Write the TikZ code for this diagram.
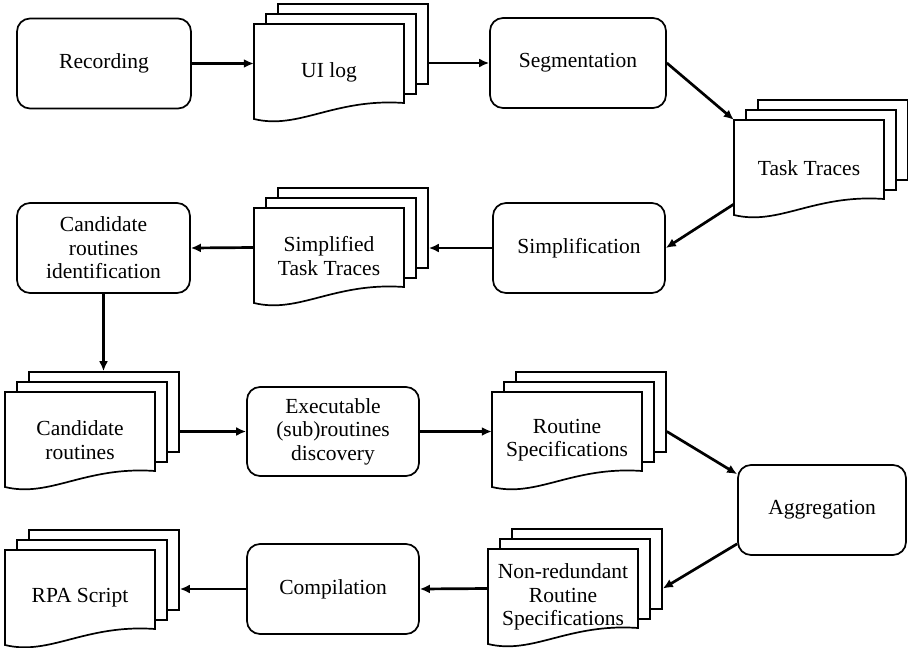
\documentclass[tikz,border=0pt]{standalone}
\usepackage{fontspec}
\setmainfont{Liberation Serif}
\usetikzlibrary{arrows.meta,calc}
\tikzset{
  box/.style={draw, line width=1.7pt, rounded corners=13pt, minimum width=173pt, minimum height=90pt, inner sep=0pt, align=center, font=\fontsize{21.5}{23.5}\selectfont},
  page/.style={draw, fill=white, line width=1.7pt, minimum width=150pt, minimum height=80pt, inner sep=0pt},
  doc/.style={draw, fill=white, line width=1.7pt},
  rectzero/.style={minimum width=150pt, minimum height=79pt, inner sep=0pt},
  lbl/.style={inner sep=0pt, align=center, font=\fontsize{21.5}{23.5}\selectfont},
  arr/.style={line width=2.7pt, -{Latex[length=10pt,width=9pt]}}
}
\newcommand\docstack[4]{%
  \node[page] (#1b) at ({#2+99},{#3+20}) {};
  \node[page] (#1m) at ({#2+87},{#3+30}) {};
  \draw[doc] (#2,#3) -- ({#2+150},#3) -- ({#2+150},{#3+79})
     .. controls ({#2+80},{#3+74}) and ({#2+45},{#3+106}) .. (#2,{#3+95}) -- cycle;
  \node[rectzero] (#1) at ({#2+75},{#3+39.5}) {};
  \node[lbl] (#1t) at ({#2+75},{#3+48}) {#4};
}
\begin{document}
\begin{tikzpicture}[x=1pt,y=-1pt]
\useasboundingbox (0,0) rectangle (908,648);
% process boxes
\node[box, minimum width=174pt] (rec) at (104,63.5) {Recording};
\node[box, minimum width=176pt] (seg) at (578,63) {Segmentation};
\node[box, minimum width=172pt] (simp) at (579,248) {Simplification};
\node[box] (cri) at (103.5,248) {Candidate\\routines\\identification};
\node[box, minimum width=172pt, minimum height=89pt] (exe) at (333,431.5) {Executable\\(sub)routines\\discovery};
\node[box, minimum width=168pt] (agg) at (822,510) {Aggregation};
\node[box, minimum width=172pt] (comp) at (333,589) {Compilation};
% document stacks
\docstack{uilog}{254}{24}{UI log}
\docstack{tt}{734}{120}{Task Traces}
\docstack{stt}{254}{208}{Simplified\\Task Traces}
\docstack{cr}{5}{392}{Candidate\\routines}
\docstack{rs}{492}{392}{Routine\\Specifications}
\docstack{nr}{488}{549}{Non-redundant\\Routine\\Specifications}
\docstack{rpa}{5}{550}{RPA Script}
% connectors
\draw[arr] (rec.east) -- (uilog.west);
\draw[arr] (uilogb.east |- seg.west) -- (seg.west);
\draw[arr] (seg.east) -- (tt.north west);
\draw[arr] ($(tt.south west)+(0,5)$) -- (simp.east);
\draw[arr] (simp.west) -- (sttb.east |- simp.west);
\draw[arr] (stt.west) -- (cri.east);
\draw[arr] (cri.south) -- (cri.south |- crb.north);
\draw[arr] (crb.east |- exe.west) -- (exe.west);
\draw[arr] (exe.east) -- (rs.west);
\draw[arr] (rsb.east |- rs.west) -- ($(agg.north west)+(0,10)$);
\draw[arr] ($(agg.south west)+(0,-12)$) -- (nrb.east |- nr.west);
\draw[arr] (nr.west) -- (comp.east);
\draw[arr] (comp.west) -- (rpab.east |- comp.west);
\end{tikzpicture}
\end{document}
